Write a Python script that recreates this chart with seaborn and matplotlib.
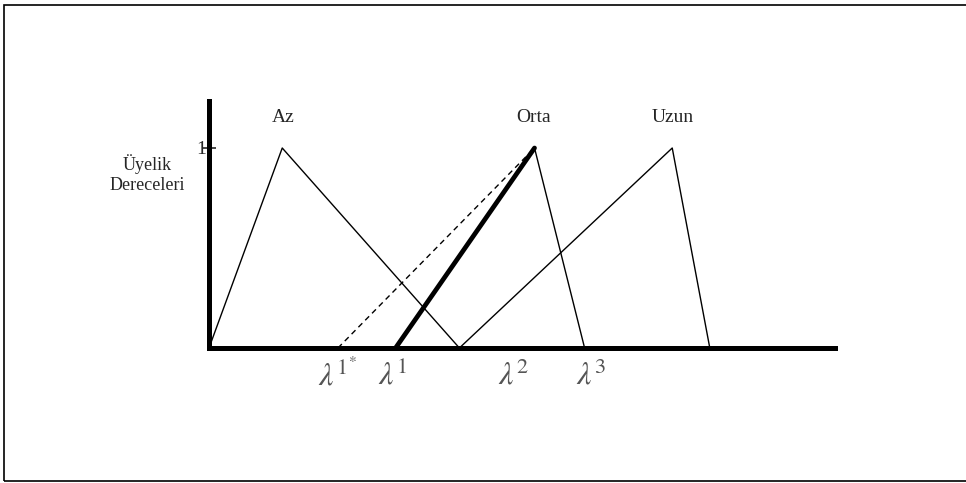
# Fuzzy membership sketch: Az / Orta / Uzun triangles with the lambda cut points.

import pandas as pd
import seaborn as sns
import matplotlib.pyplot as plt
from matplotlib.patches import Rectangle

sns.set_theme(style="white")
plt.rcParams["font.family"] = ["Liberation Serif", "DejaVu Serif"]
plt.rcParams["mathtext.fontset"] = "stix"

# Triangle corners (x position, membership degree) for every set.
az_x = [0.0, 1.17, 4.0]
az_y = [0.0, 1.0, 0.0]
orta_x = [2.98, 5.2, 6.0]
orta_y = [0.0, 1.0, 0.0]
uzun_x = [4.0, 7.4, 8.0]
uzun_y = [0.0, 1.0, 0.0]

# The shifted left leg of "Orta" (dashed) starts here.
orta_shift_start = 2.06

set_names = ["Az", "Orta", "Uzun"]
set_label_x = [1.18, 5.19, 7.41]

lambda_labels = [r"$\lambda^{1^{*}}$", r"$\lambda^{1}$", r"$\lambda^{2}$", r"$\lambda^{3}$"]
lambda_x = [1.74, 2.7, 4.62, 5.86]

df = pd.concat([
    pd.DataFrame({"x": az_x, "y": az_y, "set": "Az"}),
    pd.DataFrame({"x": orta_x[1:], "y": orta_y[1:], "set": "Orta"}),
    pd.DataFrame({"x": uzun_x, "y": uzun_y, "set": "Uzun"}),
])
thick = pd.DataFrame({"x": orta_x[:2], "y": orta_y[:2]})
dashed = pd.DataFrame({"x": [orta_shift_start, orta_x[1]], "y": [0.0, 1.0]})

fig = plt.figure(figsize=(9.66, 4.83), dpi=100)
fig.patches.append(Rectangle((4 / 966, 2 / 483), 1.2, 476 / 483, transform=fig.transFigure,
                             fill=False, edgecolor="black", linewidth=1.2))

ax = fig.add_axes([209 / 966, (483 - 348) / 483, 626 / 966, (348 - 101) / 483])
ax.set_xlim(0, 10)
ax.set_ylim(0, 1.235)

for name in set_names:
    sub = df[df["set"] == name]
    sns.lineplot(data=sub, x="x", y="y", sort=False, estimator=None, color="black",
                 linewidth=1.0, ax=ax, clip_on=False)
sns.lineplot(data=thick, x="x", y="y", sort=False, estimator=None, color="black",
             linewidth=3.4, ax=ax, clip_on=False)
sns.lineplot(data=dashed, x="x", y="y", sort=False, estimator=None, color="black",
             linewidth=1.0, linestyle=(0, (4, 3)), ax=ax, clip_on=False)

# Only the left and bottom axis lines, both heavy.
for side in ["top", "right"]:
    ax.spines[side].set_visible(False)
for side in ["left", "bottom"]:
    ax.spines[side].set_linewidth(3.6)
    ax.spines[side].set_color("black")
ax.spines["left"].set_capstyle("projecting")

ax.set_xticks([])
ax.set_yticks([1])
ax.set_yticklabels(["1"], fontsize=14)
ax.tick_params(axis="y", direction="inout", length=10, width=1.2, pad=-3, left=True)
ax.set_xlabel("")
ax.set_ylabel("")
ax.patch.set_alpha(0)

for name, x in zip(set_names, set_label_x):
    ax.text(x, 1.155, name, ha="center", va="center", fontsize=14)

for label, x in zip(lambda_labels, lambda_x):
    ax.text(x, -0.14, label, ha="left", va="center", fontsize=23, color="#555555")

ax.text(-0.98, 0.92, "Üyelik", ha="center", va="center", fontsize=13)
ax.text(-0.98, 0.81, "Dereceleri", ha="center", va="center", fontsize=13)

plt.savefig("out.png", dpi=100)
